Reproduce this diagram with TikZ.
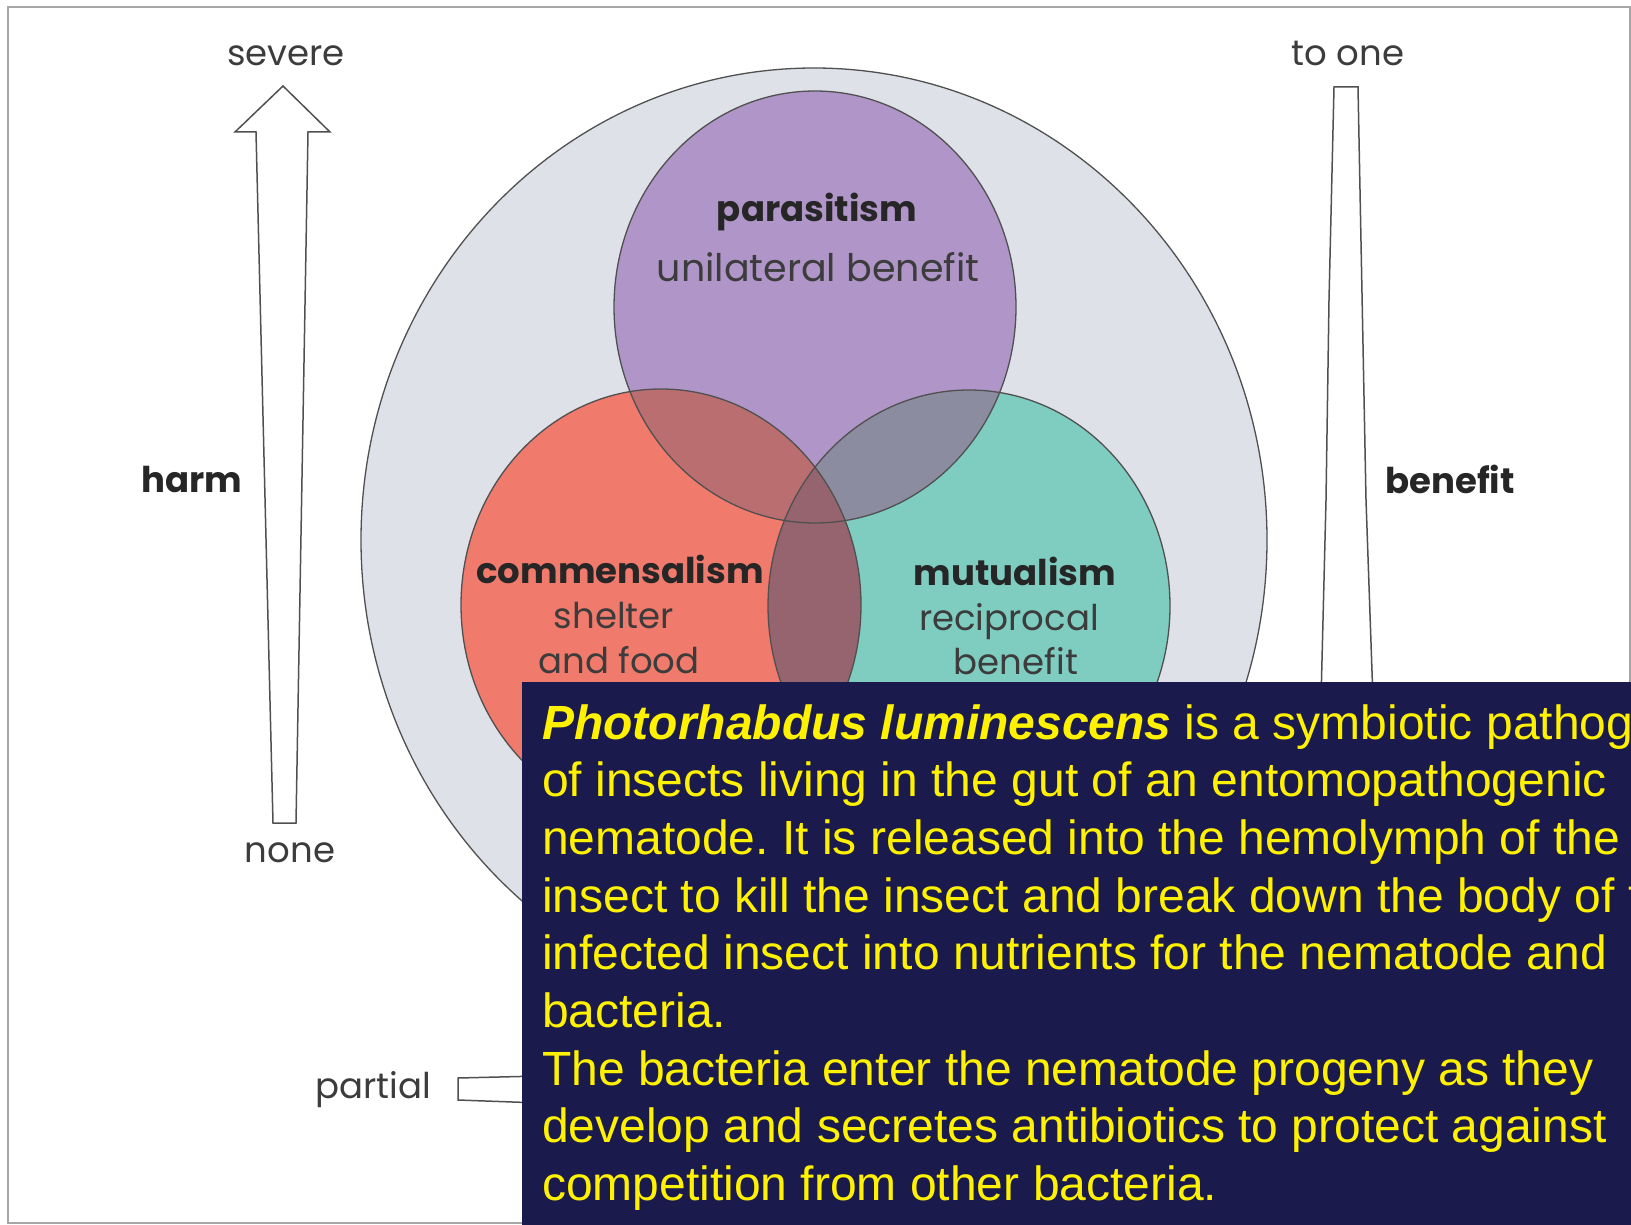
\documentclass[tikz,border=0pt]{standalone}
\usepackage{fontspec}
\setmainfont{Poppins}
\newfontfamily\boxfont{Liberation Sans}
\frenchspacing
\tikzset{>=latex}
\usetikzlibrary{positioning}

\definecolor{ringgray}{RGB}{223,225,233}
\definecolor{parcol}{RGB}{176,150,200}
\definecolor{comcol}{RGB}{240,122,108}
\definecolor{mutcol}{RGB}{126,205,192}
\definecolor{pcmix}{RGB}{186,110,112}
\definecolor{pmmix}{RGB}{140,140,160}
\definecolor{cmmix}{RGB}{150,100,110}
\definecolor{boxnavy}{RGB}{27,26,77}
\definecolor{inkgray}{RGB}{60,60,60}
\definecolor{linegray}{RGB}{80,80,80}

\tikzset{
  lbl/.style={text=inkgray, inner sep=0pt, font=\fontsize{35.5}{40}\selectfont},
  blbl/.style={text=black!85, inner sep=0pt, font=\bfseries\fontsize{35.5}{40}\selectfont},
  outl/.style={draw=linegray, line width=1.3pt},
  scalebar/.style={draw=linegray, line width=1.5pt, fill=white, line join=miter},
  boxtxt/.style={text=yellow, inner sep=0pt, anchor=base west, font=\boxfont\fontsize{48}{57.7}\selectfont}
}

\newcommand{\parpath}{(815,307) ellipse [x radius=201, y radius=216]}
\newcommand{\compath}{(661,605) ellipse [x radius=200, y radius=216]}
\newcommand{\mutpath}{(969,606) ellipse [x radius=201, y radius=216]}

\begin{document}
\begin{tikzpicture}[x=1pt, y=-1pt]
  \useasboundingbox (0,0) rectangle (1631,1225);
  \draw[gray!70, line width=2pt] (8,7) rectangle (1630,1223);

  % outer ring and the three circles
  \filldraw[fill=ringgray, outl] (814,540) ellipse [x radius=453, y radius=472];
  \fill[parcol] \parpath;
  \fill[comcol] \compath;
  \fill[mutcol] \mutpath;
  \begin{scope}
    \clip \parpath;
    \fill[pcmix] \compath;
    \fill[pmmix] \mutpath;
  \end{scope}
  \begin{scope}
    \clip \compath;
    \fill[cmmix] \mutpath;
  \end{scope}
  \draw[outl] \parpath;
  \draw[outl] \compath;
  \draw[outl] \mutpath;

  % harm arrow, benefit wedge, partial bar
  \draw[scalebar] (283,86) -- (330,132) -- (308,132) -- (296,823) -- (273,823) -- (256,132) -- (235,132) -- cycle;
  \draw[scalebar] (1334,87) -- (1358,87) -- (1366,500) -- (1373,700) -- (1378,780) -- (1318,780) -- (1321,700) -- (1326,500) -- (1329,300) -- cycle;
  \draw[scalebar] (458,1078) -- (540,1076) -- (540,1103) -- (458,1100) -- cycle;

  % labels
  \node[lbl, anchor=base] (sev) at (286,66) {severe};
  \node[lbl, anchor=base] (none) at (290,862) {none};
  \node[blbl, anchor=base] (harm) at (192,492) {harm};
  \node[lbl, anchor=base] (toone) at (1348,66) {to one};
  \node[blbl, anchor=base] (ben) at (1450,493) {benefit};
  \node[lbl, anchor=base] (part) at (373,1098) {partial};

  \node[blbl, anchor=base] (par) at (817,222) {parasitism};
  \node[lbl, anchor=base, font=\fontsize{38}{40}\selectfont] (parsub) at (818,282) {unilateral benefit};
  \node[blbl, anchor=base] (com) at (620,583) {commensalism};
  \node[lbl, anchor=base] (comsub) at (614,628) {shelter};
  \node[lbl, anchor=base] (comsub2) at (619,673) {and food};
  \node[blbl, anchor=base] (mut) at (1015,585) {mutualism};
  \node[lbl, anchor=base] (mutsub) at (1009,630) {reciprocal};
  \node[lbl, anchor=base] (mutsub2) at (1016,674) {benefit};

  % text panel
  \fill[boxnavy] (522,682) rectangle (1631,1225);
  \begin{scope}
    \clip (522,682) rectangle (1631,1225);
    \foreach \ln [count=\i from 0] in {
      {{\bfseries\itshape Photorhabdus luminescens} is a symbiotic pathogen},
      {of insects living in the gut of an entomopathogenic},
      {nematode. It is released into the hemolymph of the},
      {insect to kill the insect and break down the body of the},
      {infected insect into nutrients for the nematode and},
      {bacteria.},
      {The bacteria enter the nematode progeny as they},
      {develop and secretes antibiotics to protect against},
      {competition from other bacteria.}}
      \node[boxtxt] (ln\i) at (542,739+57.7*\i) {\ln};
  \end{scope}
\end{tikzpicture}
\end{document}
